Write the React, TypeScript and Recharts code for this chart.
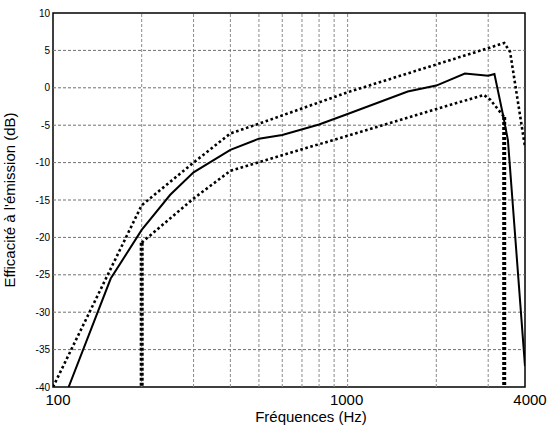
import { LineChart, Line, XAxis, YAxis, ReferenceLine, ReferenceArea } from "recharts";

// axis ticks and grid
const xTicks = [100, 1000, 4000];
const yTicks = [-40, -35, -30, -25, -20, -15, -10, -5, 0, 5, 10];
const gridFreqs = [200, 300, 400, 500, 600, 700, 800, 900, 1000, 2000, 3000];
const gridLevels = [-35, -30, -25, -20, -15, -10, -5, 0, 5];

// nominal response (solid)
const nominalHz = [113, 157, 200, 250, 300, 400, 500, 600, 800, 1000, 1600, 2000, 2500, 3000, 3150, 3380, 3500, 4000];
const nominalDb = [-40, -25.5, -19, -14.3, -11.3, -8.3, -6.8, -6.3, -4.9, -3.5, -0.5, 0.3, 1.9, 1.6, 1.85, -3.9, -7, -37.2];

// upper tolerance (dotted)
const upperHz = [100, 200, 300, 400, 500, 1000, 3000, 3400, 3560, 4000];
const upperDb = [-40, -15.7, -10, -6.1, -4.8, -0.6, 5.3, 6.0, 4.8, -7.9];

// lower tolerance (dotted)
const lowerHz = [200, 300, 400, 1000, 2900, 3050, 3400];
const lowerDb = [-20.7, -14.8, -11.1, -6.4, -0.95, -1.6, -3.9];

// cut-off limits (thick dotted verticals)
const lowCutHz = [200, 200];
const lowCutDb = [-20.7, -40];
const highCutHz = [3400, 3400];
const highCutDb = [-3.9, -40];

const toPoints = (hz: number[], db: number[]) => hz.map((f, i) => ({ f, db: db[i] }));

const font = "'Liberation Sans', Arial, sans-serif";

// edge labels sit a little to the right of their ticks
const FreqTick = (props: any) => {
  const { x, y, payload } = props;
  const shift = payload.value === 100 ? 5 : payload.value === 4000 ? 5 : -1;
  return (
    <text x={x + shift} y={y} dy="0.71em" textAnchor="middle" fontSize={15} fill="#000" fontFamily={font}>
      {payload.value}
    </text>
  );
};

export default function App() {
  return (
    <div style={{ position: "absolute", left: 0, top: 0, background: "#fff" }}>
      <LineChart width={547} height={427} margin={{ top: 13, right: 22, bottom: 0, left: 0 }}>
        <XAxis
          type="number"
          dataKey="f"
          scale="log"
          domain={[100, 4000]}
          ticks={xTicks}
          allowDataOverflow
          axisLine={false}
          tickLine={false}
          tickSize={0}
          tickMargin={7}
          height={40}
          tick={<FreqTick />}
          label={{ value: "Fréquences (Hz)", position: "insideBottom", offset: 5, dx: 22, fontSize: 15, fill: "#000", fontFamily: font }}
        />
        <YAxis
          type="number"
          domain={[-40, 10]}
          ticks={yTicks}
          allowDataOverflow
          axisLine={false}
          tickLine={false}
          tickSize={0}
          tickMargin={3}
          width={53}
          tick={{ fontSize: 10, fill: "#000", fontFamily: font }}
          label={{ value: "Efficacité à l'émission (dB)", angle: -90, position: "insideLeft", offset: 10, fontSize: 15, fill: "#000", fontFamily: font, style: { textAnchor: "middle" } }}
        />
        {gridFreqs.map((f) => (
          <ReferenceLine key={"gx" + f} x={f} stroke="#8a8a8a" strokeWidth={1} strokeDasharray="3 2" />
        ))}
        {gridLevels.map((v) => (
          <ReferenceLine key={"gy" + v} y={v} stroke="#707070" strokeWidth={1} strokeDasharray="3 2" />
        ))}
        <Line data={toPoints(upperHz, upperDb)} dataKey="db" type="linear" stroke="#000" strokeWidth={2.6} strokeDasharray="2.6 2.6" dot={false} isAnimationActive={false} />
        <Line data={toPoints(lowerHz, lowerDb)} dataKey="db" type="linear" stroke="#000" strokeWidth={2.6} strokeDasharray="2.6 2.6" dot={false} isAnimationActive={false} />
        <Line data={toPoints(nominalHz, nominalDb)} dataKey="db" type="linear" stroke="#000" strokeWidth={2} dot={false} isAnimationActive={false} />
        <Line data={toPoints(lowCutHz, lowCutDb)} dataKey="db" type="linear" stroke="#000" strokeWidth={4} strokeDasharray="3 2" dot={false} isAnimationActive={false} />
        <Line data={toPoints(highCutHz, highCutDb)} dataKey="db" type="linear" stroke="#000" strokeWidth={4} strokeDasharray="3 2" dot={false} isAnimationActive={false} />
        <ReferenceArea x1={100} x2={4000} y1={-40} y2={10} fill="none" stroke="#000" strokeWidth={1.5} fillOpacity={0} ifOverflow="visible" />
      </LineChart>
    </div>
  );
}
